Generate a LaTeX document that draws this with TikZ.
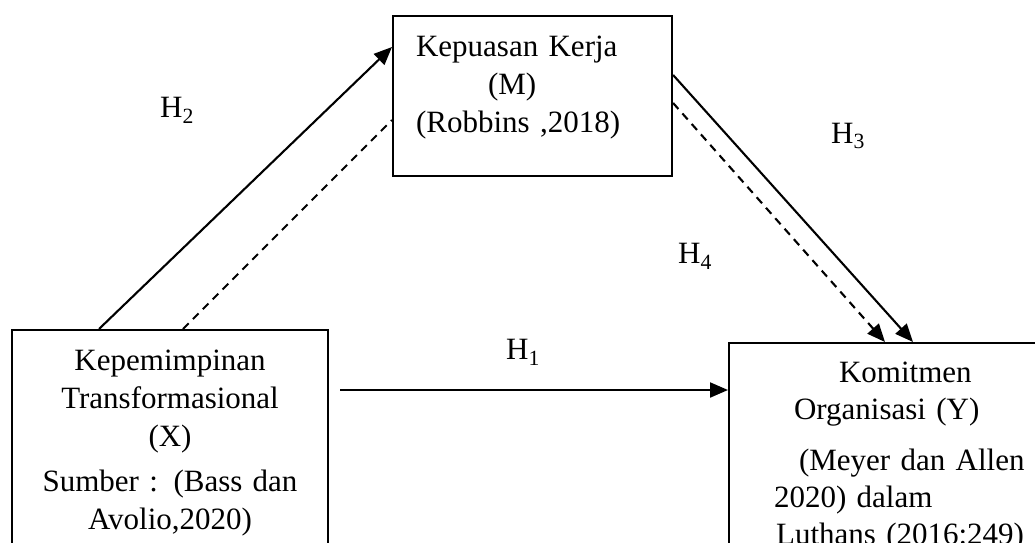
\documentclass[tikz,border=0pt]{standalone}
\usepackage{fontspec}
\setmainfont{Liberation Serif}
\usetikzlibrary{arrows.meta}

\begin{document}
\begin{tikzpicture}[
        x=1pt, y=-1pt,
        varbox/.style={rectangle, draw, line width=2.1pt, anchor=north west, font=\fontsize{31pt}{38pt}\selectfont},
        arrow/.style={-{Triangle[length=18pt,width=15pt]}, line width=2.1pt},
        dashline/.style={line width=2.1pt, dash pattern=on 8pt off 6pt},
        hlabel/.style={font=\fontsize{31pt}{38pt}\selectfont}
    ]

        % Page frame, the two lower boxes run off the bottom and right
        \clip (0,0) rectangle (1035,542);

        % Top box - mediator
        \node[varbox, align=left, text width=233pt, inner xsep=23pt, inner ysep=20pt] (m) at (392,15)
            {Kepuasan Kerja\\ \hspace*{72pt}(M)\\ (Robbins ,2018)\rule[-23pt]{0pt}{0pt}};

        % Bottom left box - independent variable
        \node[varbox, align=center, text width=296pt, inner xsep=10pt, inner ysep=20pt] (x) at (11,329)
            {Kepemimpinan\\ Transformasional\\ (X)\\[7pt] Sumber : (Bass dan\\ Avolio,2020)};

        % Bottom right box - dependent variable
        \node[varbox, align=left, text width=330pt, inner xsep=45pt, inner ysep=19pt,
              font=\fontsize{31pt}{37pt}\selectfont] (y) at (728,342)
            {\hspace*{65pt}Komitmen\\ \hspace*{20pt}Organisasi (Y)\\[14pt] \hspace*{25pt}(Meyer dan Allen\\ 2020) dalam\\ \hspace*{2pt}Luthans (2016:249)};

        % Arrow from X to M
        \draw[arrow] ([xshift=88pt]x.north west) -- ([yshift=-32pt]m.north west);
        \draw[dashline] ([xshift=172pt]x.north west) -- ([yshift=-105pt]m.north west);
        \node[hlabel] (h2) at (177,110) {H\textsubscript{2}};

        % Arrow from M to Y
        \draw[arrow] ([yshift=-60pt]m.north east) -- ([xshift=185pt]y.north west);
        \node[hlabel] (h3) at (848,136) {H\textsubscript{3}};

        % Indirect path through M
        \draw[arrow, dash pattern=on 8pt off 6pt] ([yshift=-88pt]m.north east) -- ([xshift=157pt]y.north west);
        \node[hlabel] (h4) at (695,256) {H\textsubscript{4}};

        % Arrow from X to Y
        \coordinate (h1start) at (340,390);
        \draw[arrow] (h1start) -- (h1start -| y.west);
        \node[hlabel] (h1) at (523,352) {H\textsubscript{1}};

    \end{tikzpicture}
\end{document}
